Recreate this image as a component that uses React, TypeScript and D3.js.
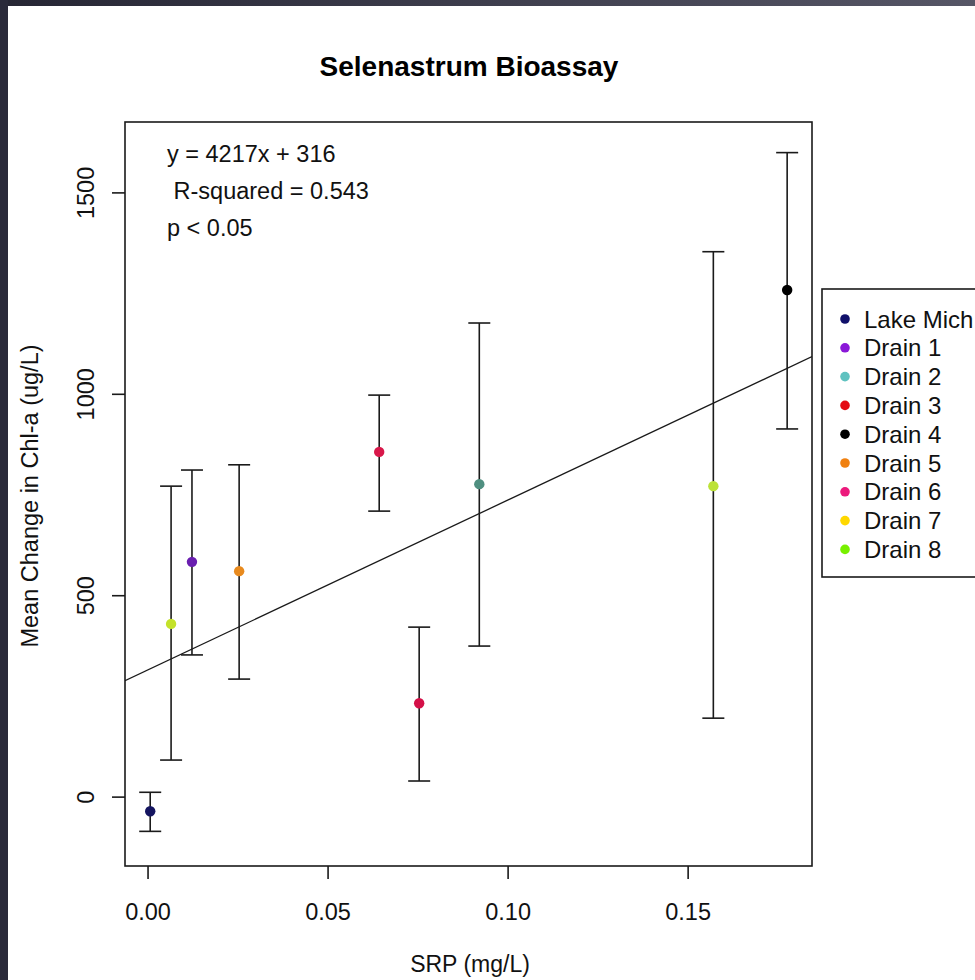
import React from "react";
import { scaleLinear, line } from "d3";

// values
const sites = ["Lake Mich", "Drain 1", "Drain 2", "Drain 3", "Drain 4", "Drain 5", "Drain 6", "Drain 7", "Drain 8"];
const srp = [0.0006, 0.0122, 0.092, 0.0753, 0.1775, 0.0253, 0.0642, 0.0064, 0.157];
const chlMean = [-35, 584, 777, 233, 1259, 561, 857, 430, 772];
const chlHigh = [12, 812, 1177, 422, 1600, 825, 998, 772, 1354];
const chlLow = [-85, 353, 375, 40, 914, 293, 710, 92, 196];
const legendColors = ["#10106a", "#8a18d8", "#5fc2c0", "#e40a14", "#000000", "#f08010", "#ec1a7c", "#ffd800", "#78f000"];
const pointColors = ["#151560", "#6a1fb0", "#4f8f80", "#d41048", "#000000", "#e88a1e", "#d8184a", "#c4e22a", "#bce238"];
const xTicks = [0, 0.05, 0.1, 0.15];
const yTicks = [0, 500, 1000, 1500];
const slope = 4217;
const intercept = 316;
const statsLines = ["y = 4217x + 316", " R-squared = 0.543", "p < 0.05"];

const font = "'Liberation Sans', Arial, sans-serif";

export default function App() {
  const width = 975;
  const height = 980;
  const box = { left: 125, right: 812, top: 122, bottom: 866 };

  const x = scaleLinear().domain([-0.0064, 0.1844]).range([box.left, box.right]);
  const y = scaleLinear().domain([-171, 1676]).range([box.bottom, box.top]);

  const fitLine = line<number>()
    .x((d) => x(d))
    .y((d) => y(slope * d + intercept));

  const capHalf = 11;
  const ink = "#1a1a1a";

  return (
    <svg
      width={width}
      height={height}
      style={{ position: "absolute", left: 0, top: 0, background: "#fff" }}
      fontFamily={font}
    >
      <defs>
        <linearGradient id="topband" x1="0" x2="1" y1="0" y2="0">
          <stop offset="0" stopColor="#262634" />
          <stop offset="1" stopColor="#565666" />
        </linearGradient>
        <clipPath id="plotclip">
          <rect x={box.left} y={box.top} width={box.right - box.left} height={box.bottom - box.top} />
        </clipPath>
      </defs>
      <rect x={0} y={0} width={width} height={6} fill="url(#topband)" />
      <rect x={0} y={0} width={8} height={height} fill="#2a2a3a" />

      <text x={469} y={76} textAnchor="middle" fontSize={28} fontWeight="bold" fill="#000">
        Selenastrum Bioassay
      </text>

      {/* regression line */}
      <path
        d={fitLine(x.domain()) ?? ""}
        fill="none"
        stroke={ink}
        strokeWidth={1.3}
        clipPath="url(#plotclip)"
      />

      {/* error bars */}
      {sites.map((s, i) => (
        <g key={"eb" + s} stroke={ink} strokeWidth={1.6}>
          <line x1={x(srp[i])} x2={x(srp[i])} y1={y(chlHigh[i])} y2={y(chlLow[i])} />
          <line x1={x(srp[i]) - capHalf} x2={x(srp[i]) + capHalf} y1={y(chlHigh[i])} y2={y(chlHigh[i])} />
          <line x1={x(srp[i]) - capHalf} x2={x(srp[i]) + capHalf} y1={y(chlLow[i])} y2={y(chlLow[i])} />
        </g>
      ))}

      {/* points */}
      {sites.map((s, i) => (
        <circle key={"pt" + s} cx={x(srp[i])} cy={y(chlMean[i])} r={5.2} fill={pointColors[i]} />
      ))}

      {/* plot box */}
      <rect
        x={box.left}
        y={box.top}
        width={box.right - box.left}
        height={box.bottom - box.top}
        fill="none"
        stroke={ink}
        strokeWidth={1.6}
      />

      {/* x axis */}
      <g stroke={ink} strokeWidth={1.6}>
        {xTicks.map((t) => (
          <line key={"xt" + t} x1={x(t)} x2={x(t)} y1={box.bottom} y2={box.bottom + 13} />
        ))}
      </g>
      {xTicks.map((t) => (
        <text key={"xl" + t} x={x(t)} y={920} textAnchor="middle" fontSize={23.5} fill="#111">
          {t.toFixed(2)}
        </text>
      ))}
      <text x={470} y={972} textAnchor="middle" fontSize={23} fill="#111">
        SRP (mg/L)
      </text>

      {/* y axis */}
      <g stroke={ink} strokeWidth={1.6}>
        {yTicks.map((t) => (
          <line key={"yt" + t} x1={box.left} x2={box.left - 13} y1={y(t)} y2={y(t)} />
        ))}
      </g>
      {yTicks.map((t) => (
        <text
          key={"yl" + t}
          transform={`translate(94,${y(t)}) rotate(-90)`}
          textAnchor="middle"
          fontSize={23.5}
          fill="#111"
        >
          {t}
        </text>
      ))}
      <text
        transform={`translate(38,${496}) rotate(-90)`}
        textAnchor="middle"
        fontSize={23.5}
        fill="#111"
      >
        Mean Change in Chl-a (ug/L)
      </text>

      {/* regression stats */}
      {statsLines.map((t, i) => (
        <text key={"st" + i} x={167} y={162 + i * 37} fontSize={23.5} fill="#111" style={{ whiteSpace: "pre" }}>
          {t}
        </text>
      ))}

      {/* legend */}
      <rect x={822} y={289} width={170} height={288} fill="#fff" stroke={ink} strokeWidth={1.6} />
      {sites.map((s, i) => (
        <g key={"lg" + s}>
          <circle cx={845} cy={319 + i * 28.8} r={4.8} fill={legendColors[i]} />
          <text x={864} y={319 + i * 28.8 + 8.5} fontSize={24} fill="#111">
            {s}
          </text>
        </g>
      ))}
    </svg>
  );
}
